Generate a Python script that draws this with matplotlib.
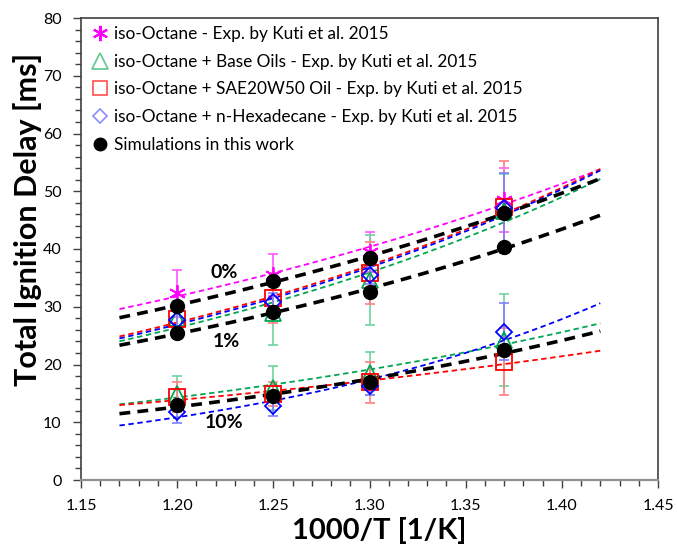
import numpy as np
import matplotlib
matplotlib.use("Agg")
import matplotlib.pyplot as plt
from matplotlib.lines import Line2D
from matplotlib.ticker import MultipleLocator, FormatStrFormatter

plt.rcParams['font.family'] = ['Lato', 'DejaVu Sans']

# inverse temperature, 1000/T [1/K]
inv_T = [1.20, 1.25, 1.30, 1.37]

# measured total ignition delays [ms] (Kuti et al. 2015)
iso_octane = [32.3, 35.5, 39.5, 48.5]
iso_octane_err = [4.0, 3.7, 3.5, 5.5]

base_oils_1 = [28.0, 28.9, 34.6, 46.5]
base_oils_1_err = [3.0, 5.6, 7.8, 6.5]
sae_oil_1 = [27.9, 31.5, 35.8, 47.3]
sae_oil_1_err = [3.0, 4.3, 5.4, 8.0]
hexadecane_1 = [27.7, 30.9, 35.5, 47.1]
hexadecane_1_err = [1.5, 1.5, 1.5, 6.0]

base_oils_10 = [14.9, 15.9, 18.5, 24.2]
base_oils_10_err = [3.1, 3.8, 3.7, 8.0]
sae_oil_10 = [14.3, 14.9, 16.9, 20.5]
sae_oil_10_err = [2.6, 2.0, 3.5, 5.8]
hexadecane_10 = [11.7, 12.9, 16.2, 25.7]
hexadecane_10_err = [1.8, 1.8, 1.5, 5.0]

# simulated ignition delays [ms]
sim_0 = [30.2, 34.5, 38.5, 46.2]
sim_1 = [25.4, 29.1, 32.6, 40.4]
sim_10 = [13.0, 14.6, 16.9, 22.5]

fit_range = (1.17, 1.42)

MAGENTA = '#FF00FF'
GREEN = '#00A651'
RED = '#FF0000'
BLUE = '#0000FF'

fig = plt.figure(figsize=(6.77, 5.46), dpi=100)
ax = fig.add_axes([81 / 677, 66 / 546, 577 / 677, 462 / 546])

x = np.array(inv_T)
xf = np.linspace(*fit_range, 100)


def exp_trend(y, color, lw, dashes, z):
    # exponential trendline: ln(y) linear in 1000/T
    b, a = np.polyfit(x, np.log(y), 1)
    ax.plot(xf, np.exp(a + b * xf), color=color, lw=lw, dashes=dashes, zorder=z)


def exp_series(y, err, color, marker, ms, errcolor):
    ax.errorbar(x, y, yerr=err, fmt='none', ecolor=errcolor, elinewidth=1.2,
                capsize=3.5, capthick=1.2, zorder=3)
    ax.plot(x, y, ls='none', marker=marker, ms=ms, mfc='none', mec=color,
            mew=1.3, zorder=4)


# trendlines of the experiments
exp_trend(iso_octane, MAGENTA, 1.3, (3, 2), 2)
for ys, c in [(base_oils_1, GREEN), (sae_oil_1, RED), (hexadecane_1, BLUE),
              (base_oils_10, GREEN), (sae_oil_10, RED), (hexadecane_10, BLUE)]:
    exp_trend(ys, c, 1.3, (3, 2), 2)

# trendlines of the simulations
for ys in (sim_0, sim_1, sim_10):
    exp_trend(ys, 'black', 2.6, (3, 2), 2.5)

# experimental points with error bars
exp_series(iso_octane, iso_octane_err, MAGENTA, (6, 2, 0), 12, '#FF55FF')
exp_series(base_oils_1, base_oils_1_err, GREEN, '^', 11, '#6FD3A0')
exp_series(base_oils_10, base_oils_10_err, GREEN, '^', 11, '#6FD3A0')
exp_series(sae_oil_1, sae_oil_1_err, RED, 's', 11, '#FF7F7F')
exp_series(sae_oil_10, sae_oil_10_err, RED, 's', 11, '#FF7F7F')
exp_series(hexadecane_1, hexadecane_1_err, BLUE, 'D', 8.5, '#7F7FFF')
exp_series(hexadecane_10, hexadecane_10_err, BLUE, 'D', 8.5, '#7F7FFF')

# simulation points
for ys in (sim_0, sim_1, sim_10):
    ax.plot(x, ys, ls='none', marker='o', ms=10, color='black', zorder=5)

# concentration labels
ax.text(1.2245, 36.0, '0%', fontsize=14, fontweight='bold', ha='center', va='center')
ax.text(1.2255, 23.9, '1%', fontsize=14, fontweight='bold', ha='center', va='center')
ax.text(1.2245, 10.0, '10%', fontsize=14, fontweight='bold', ha='center', va='center')

ax.set_xlim(1.15, 1.45)
ax.set_ylim(0, 80)
ax.xaxis.set_major_locator(MultipleLocator(0.05))
ax.xaxis.set_minor_locator(MultipleLocator(0.01))
ax.xaxis.set_major_formatter(FormatStrFormatter('%.2f'))
ax.yaxis.set_major_locator(MultipleLocator(10))
ax.yaxis.set_minor_locator(MultipleLocator(2))
ax.tick_params(which='both', direction='out', color='#404040', labelsize=11.5,
               labelcolor='black')
ax.tick_params(which='major', length=6, width=1)
ax.tick_params(which='minor', length=4, width=1)
ax.tick_params(axis='x', pad=8)
ax.tick_params(axis='y', pad=8)
for s in ax.spines.values():
    s.set_color('#404040')
    s.set_linewidth(1.2)
ax.spines['bottom'].set_color('#909090')
ax.spines['bottom'].set_linewidth(1.6)

ax.set_xlabel('1000/T [1/K]', fontsize=21, fontweight='bold')
ax.set_ylabel('Total Ignition Delay [ms]', fontsize=22, fontweight='bold')
ax.xaxis.set_label_coords(0.516, -0.080)
ax.yaxis.set_label_coords(-0.067, 0.563)

handles = [
    Line2D([], [], ls='none', marker=(6, 2, 0), ms=11, mec=MAGENTA, mew=1.5),
    Line2D([], [], ls='none', marker='^', ms=11, mfc='none', mec='#5CC98E', mew=1.2),
    Line2D([], [], ls='none', marker='s', ms=10, mfc='none', mec='#FF5050', mew=1.2),
    Line2D([], [], ls='none', marker='D', ms=7.5, mfc='none', mec='#8C8CFF', mew=1.2),
    Line2D([], [], ls='none', marker='o', ms=9, color='black'),
]
labels = [
    'iso-Octane - Exp. by Kuti et al. 2015',
    'iso-Octane + Base Oils - Exp. by Kuti et al. 2015',
    'iso-Octane + SAE20W50 Oil - Exp. by Kuti et al. 2015',
    'iso-Octane + n-Hexadecane - Exp. by Kuti et al. 2015',
    'Simulations in this work',
]
ax.legend(handles, labels, loc='upper left', frameon=False, fontsize=12.4,
          handlelength=0.8, handletextpad=0.4, labelspacing=0.68,
          borderaxespad=0.3, bbox_to_anchor=(0.0, 1.009))

fig.savefig('out.png', dpi=100)
